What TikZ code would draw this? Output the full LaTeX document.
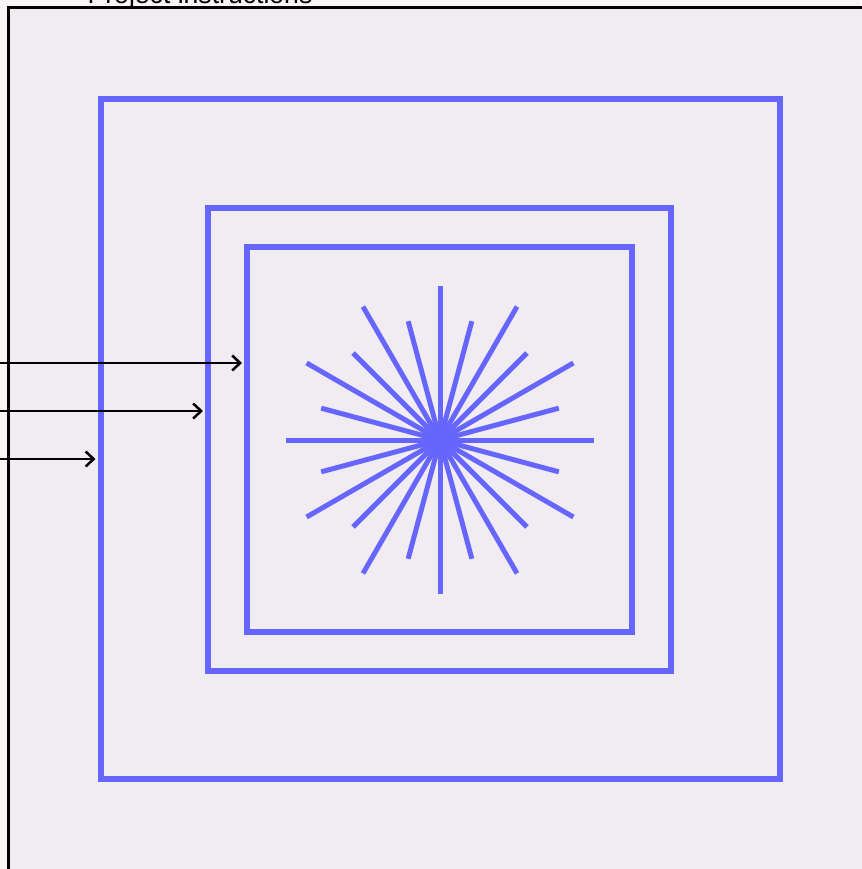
\documentclass[tikz,border=0pt]{standalone}
\usepackage{fontspec}
\setmainfont{Liberation Sans}
\usetikzlibrary{arrows.meta}
\definecolor{bgout}{HTML}{F9F5F7}
\definecolor{panel}{HTML}{F0ECF2}
\definecolor{ringblue}{HTML}{6666FF}
\tikzset{
  ring/.style={draw=ringblue, line width=6pt, minimum width=#1, minimum height=#1, inner sep=0pt, outer sep=0pt},
  ray/.style={draw=ringblue, line width=5pt},
  feed/.style={draw=black, line width=2.5pt, -{Straight Barb[length=8pt,width=15pt,line width=2.5pt]}},
}
\begin{document}
\begin{tikzpicture}[x=1pt,y=-1pt]
\useasboundingbox (0,0) rectangle (861,869);
\fill[bgout] (0,0) rectangle (861,869);
\fill[panel] (8,8) rectangle (875,885);
\draw[black, line width=3pt] (8,885) -- (8,8) -- (875,8);
\node[anchor=base, font=\fontsize{26.6}{30}\selectfont, inner sep=0pt] (title) at (200,4) {Project instructions};
\node[ring=679pt] (outer) at (440,439) {};
\node[ring=463pt] (middle) at (439.5,439.5) {};
\node[ring=385pt] (inner) at (439.5,439.5) {};
\coordinate (c) at (440,440);
\foreach \a in {0,30,...,330} {\draw[ray] (c) -- ++(\a:154);}
\foreach \a in {15,45,...,345} {\draw[ray] (c) -- ++(\a:123);}
\fill[ringblue] (c) circle (12);
\coordinate (s1) at (0,363);
\coordinate (s2) at (0,411);
\coordinate (s3) at (0,459);
\draw[feed] (s1) -- ([xshift=-5pt]s1 -| inner.west);
\draw[feed] (s2) -- ([xshift=-5pt]s2 -| middle.west);
\draw[feed] (s3) -- ([xshift=-5pt]s3 -| outer.west);
\end{tikzpicture}
\end{document}
